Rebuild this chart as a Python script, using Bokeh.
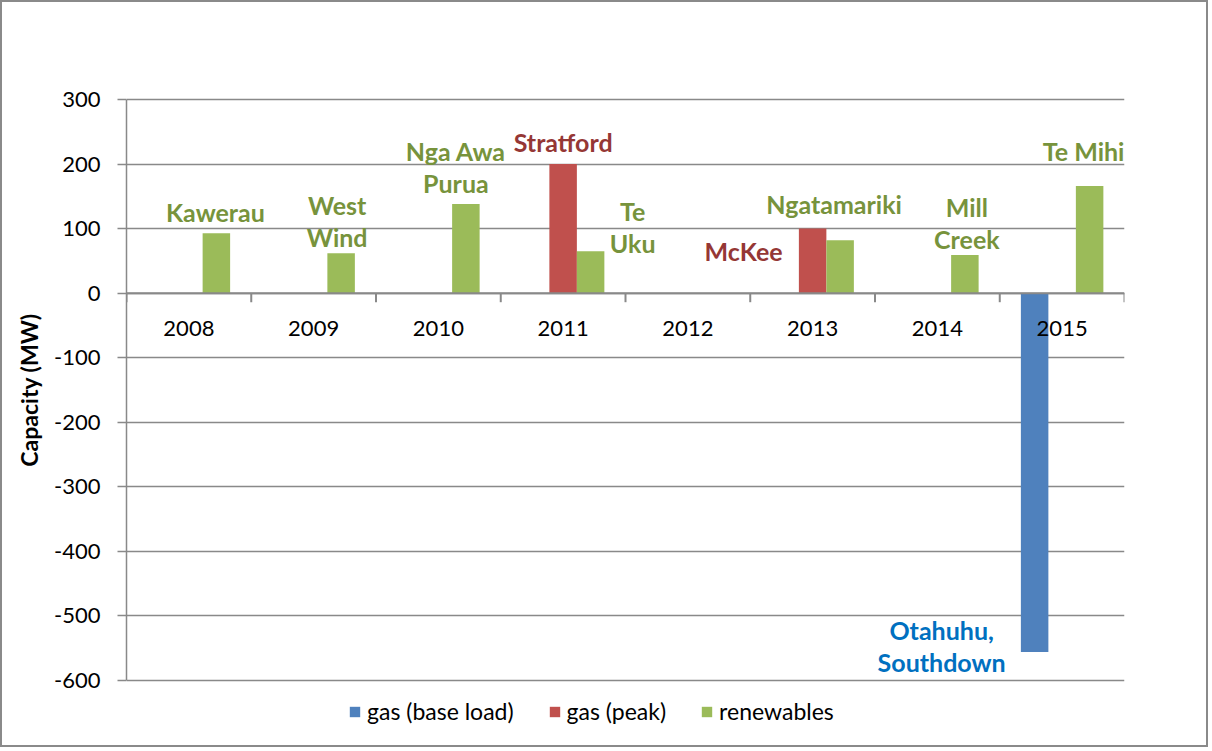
from bokeh.plotting import figure
from bokeh.models import (ColumnDataSource, FactorRange, FixedTicker, Legend, LegendItem, Span,
                          Range1d, CustomJSTickFormatter)
from bokeh.transform import dodge
from bokeh.core.properties import value
from bokeh.embed import file_html
from bokeh.resources import INLINE

# ---------------- data ----------------
years = ["2008", "2009", "2010", "2011", "2012", "2013", "2014", "2015"]
gas_base = [0, 0, 0, 0, 0, 0, 0, -556]
gas_peak = [0, 0, 0, 200, 0, 100, 0, 0]
renewables = [93, 62, 138, 65, 0, 82, 59, 166]
series_names = ["gas (base load)", "gas (peak)", "renewables"]
base_labels = ["", "", "", "", "", "", "", "Otahuhu,\nSouthdown"]
peak_labels = ["", "", "", "Stratford", "", "McKee", "", ""]
renew_labels = ["Kawerau", "West\nWind", "Nga Awa\nPurua", "Te\nUku", "", "Ngatamariki", "Mill\nCreek", "Te Mihi"]
y_ticks = [-600, -500, -400, -300, -200, -100, 0, 100, 200, 300]
y_title = "Capacity (MW)"

# ---------------- layout / style ----------------
FONT = "Lato"
GRAY = "#898989"
C_BASE, C_PEAK, C_REN = "#4F81BD", "#C0504D", "#9BBB59"
T_BASE, T_PEAK, T_REN = "#0070C0", "#953735", "#77933C"
BAR_W = 0.2204

W, H = 1208, 747           # canvas size (plus 2px CSS border each side)
AXIS_TOP = 97              # canvas px of the 300 line
AXIS_PX = 581              # pixel height of the -600..300 axis
Y_MIN, Y_MAX = y_ticks[0], y_ticks[-1]
PER_PX = (Y_MAX - Y_MIN) / AXIS_PX
pad_below = H - (AXIS_TOP + AXIS_PX)          # room for legend below the axis
FRAME_TOP = AXIS_TOP - pad_below              # symmetric frame keeps axis title centred
y_lo = Y_MIN - pad_below * PER_PX
y_hi = Y_MAX + pad_below * PER_PX

# label offsets in screen pixels relative to the bar end (dx, dy downwards)
base_off = {7: (-93, -6)}
peak_off = {3: (0, -22), 5: (-69, 22)}
ren_off = {0: (-1, -21), 1: (-4, -32), 2: (-10, -37), 3: (42, -24), 5: (-6, -36), 6: (2, -32), 7: (-6, -35)}

p = figure(width=W, height=H, x_range=FactorRange(*years, range_padding=0),
           y_range=Range1d(y_lo, y_hi), x_axis_location=None,
           output_backend="svg", toolbar_location=None,
           min_border_left=124, min_border_right=86, min_border_top=FRAME_TOP, min_border_bottom=0)
p.styles = {"border": "2px solid #8a8a8a"}
p.outline_line_color = None
p.background_fill_color = "white"
p.border_fill_color = "white"

# y axis
ax = p.yaxis[0]
ax.bounds = (Y_MIN, Y_MAX)
ax.ticker = FixedTicker(ticks=y_ticks)
ax.formatter = CustomJSTickFormatter(code="return String(tick);")
ax.axis_line_color = GRAY
ax.axis_line_width = 1.5
ax.major_tick_line_color = GRAY
ax.major_tick_line_width = 1.5
ax.major_tick_out = 9
ax.major_tick_in = 0
ax.minor_tick_line_color = None
ax.major_label_text_font = FONT
ax.major_label_text_font_size = "22px"
ax.major_label_text_color = "black"
ax.major_label_standoff = 17
ax.axis_label = y_title
ax.axis_label_text_font = FONT
ax.axis_label_text_font_size = "23px"
ax.axis_label_text_font_style = "bold"
ax.axis_label_text_color = "black"
ax.axis_label_standoff = 8

p.ygrid.ticker = FixedTicker(ticks=y_ticks)
p.ygrid.grid_line_color = GRAY
p.ygrid.grid_line_width = 1.5
p.xgrid.visible = False

src = ColumnDataSource(dict(years=years, base=gas_base, peak=gas_peak, ren=renewables))

# horizontal axis line at zero and boundary ticks
p.add_layout(Span(location=0, dimension="width", line_color=GRAY, line_width=2))
p.segment(x0=dodge("years", -0.5, range=p.x_range), y0=0,
          x1=dodge("years", -0.5, range=p.x_range), y1=-14,
          source=src, line_color=GRAY, line_width=2)
p.segment(x0=dodge("years", 0.5, range=p.x_range), y0=0,
          x1=dodge("years", 0.5, range=p.x_range), y1=-14,
          source=ColumnDataSource(dict(years=years[-1:])), line_color=GRAY, line_width=2)

# bars
r_base = p.vbar(x=dodge("years", -BAR_W, range=p.x_range), top="base", bottom=0, width=BAR_W,
                source=src, fill_color=C_BASE, line_color=None)
r_peak = p.vbar(x=dodge("years", 0, range=p.x_range), top="peak", bottom=0, width=BAR_W,
                source=src, fill_color=C_PEAK, line_color=None)
r_ren = p.vbar(x=dodge("years", BAR_W, range=p.x_range), top="ren", bottom=0, width=BAR_W,
               source=src, fill_color=C_REN, line_color=None)

# category labels
p.text(x="years", y=0, text="years", source=src, y_offset=35,
       text_align="center", text_baseline="middle",
       text_font=value(FONT), text_font_size="22px", text_color="black")


def label_source(vals, labels, offs):
    xs, ys, ts, dx, dy = [], [], [], [], []
    for i, (v, t) in enumerate(zip(vals, labels)):
        if not t:
            continue
        xs.append(years[i]); ys.append(v); ts.append(t)
        dx.append(offs[i][0]); dy.append(offs[i][1])
    return ColumnDataSource(dict(x=xs, y=ys, t=ts, dx=dx, dy=dy))


for vals, labels, offs, shift, col in [
        (gas_base, base_labels, base_off, -BAR_W, T_BASE),
        (gas_peak, peak_labels, peak_off, 0, T_PEAK),
        (renewables, renew_labels, ren_off, BAR_W, T_REN)]:
    ls = label_source(vals, labels, offs)
    p.text(x=dodge("x", shift, range=p.x_range), y="y", text="t", source=ls,
           x_offset="dx", y_offset="dy", text_align="center", text_baseline="middle",
           text_font=value(FONT), text_font_size="25px", text_font_style="bold",
           text_color=col, text_line_height=1.07)

legend = Legend(items=[LegendItem(label=series_names[0], renderers=[r_base]),
                       LegendItem(label=series_names[1], renderers=[r_peak]),
                       LegendItem(label=series_names[2], renderers=[r_ren])],
                orientation="horizontal", location=(222, 24),
                glyph_width=13, glyph_height=13, label_standoff=6, spacing=34,
                padding=0, margin=0, border_line_color=None, background_fill_alpha=0,
                label_text_font=FONT, label_text_font_size="23px", label_text_color="black")
p.add_layout(legend, "center")

html = file_html(p, INLINE, title="Capacity changes")
html = html.replace("<head>", "<head><style>body{margin:0;}</style>", 1)
open("out.html", "w").write(html)
